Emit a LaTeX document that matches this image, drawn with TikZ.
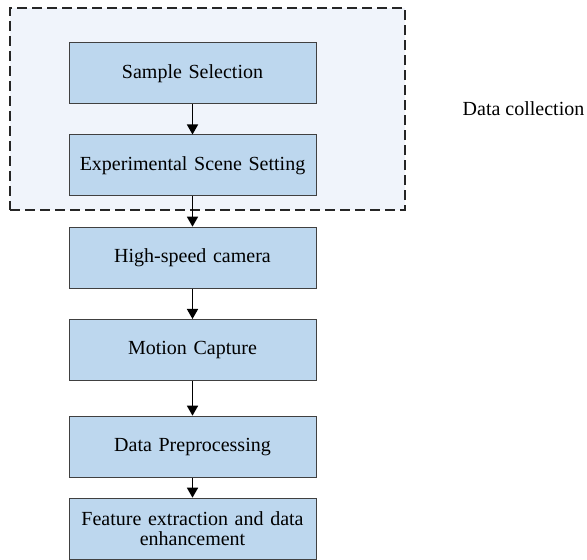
\documentclass[tikz,border=0pt]{standalone}
\usepackage{fontspec}
\setmainfont{Liberation Serif}
\usetikzlibrary{arrows.meta}
\definecolor{boxfill}{RGB}{189,215,238}
\definecolor{groupfill}{RGB}{240,244,251}
\definecolor{boxline}{RGB}{64,64,64}
\begin{document}
\begin{tikzpicture}[x=0.5pt,y=-0.5pt,
  stepbox/.style={draw=boxline,line width=0.5pt,fill=boxfill,rectangle,
    minimum width=123.5pt,minimum height=30.5pt,inner sep=2pt,
    font=\fontsize{10}{10.4}\selectfont,align=center,text width=118pt},
  flow/.style={line width=0.75pt,-{Triangle[width=5.5pt,length=5pt]}},
  groupbox/.style={draw=black!85,fill=groupfill,dashed,dash pattern=on 5pt off 2.5pt,
    line width=0.75pt,rectangle,minimum width=197.5pt,minimum height=101pt,inner sep=0pt}]
\useasboundingbox (0,0) rectangle (587,560);
\node[groupbox] (group) at (207.5,109) {};
\node[font=\fontsize{10}{12}\selectfont] (lab) at (523.5,109) {Data collection};
\node[stepbox] (s1) at (192.5,73.5) {Sample Selection};
\node[stepbox] (s2) at (192.5,165.5) {Experimental Scene Setting};
\node[stepbox] (s3) at (192.5,257.7) {High-speed camera};
\node[stepbox] (s4) at (192.5,350) {Motion Capture};
\node[stepbox] (s5) at (192.5,446.7) {Data Preprocessing};
\node[stepbox] (s6) at (192.5,528.7) {Feature extraction and data\\enhancement};
\draw[flow] (s1) -- (s2);
\draw[flow] (s2) -- (s3);
\draw[flow] (s3) -- (s4);
\draw[flow] (s4) -- (s5);
\draw[flow] (s5) -- (s6);
\end{tikzpicture}
\end{document}
